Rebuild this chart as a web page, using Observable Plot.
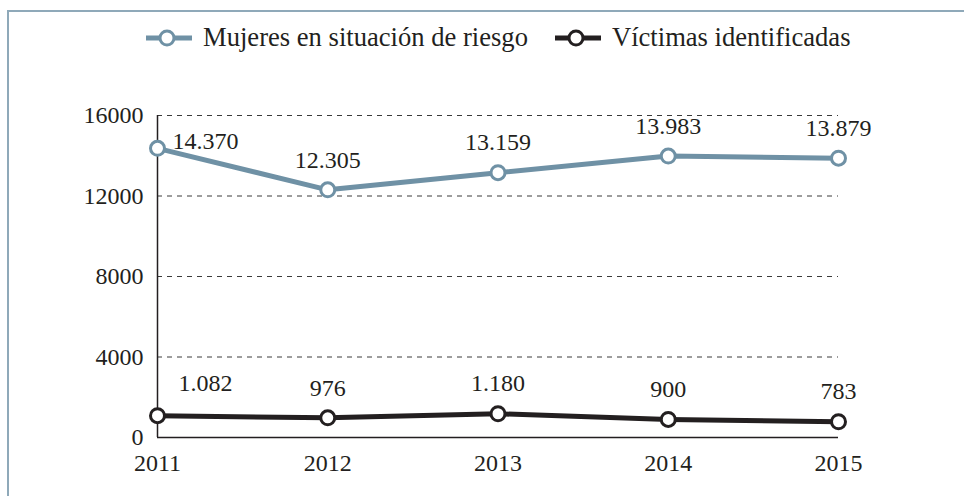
<!DOCTYPE html>
<html>
<head>
<meta charset="utf-8">
<script src="https://cdn.jsdelivr.net/npm/d3@7"></script>
<script src="https://cdn.jsdelivr.net/npm/@observablehq/plot@0.6"></script>
</head>
<body style="margin:0;padding:0;background:#fff;font-family:'Liberation Serif', serif">
<div id="wrap" style="position:relative;width:964px;height:496px;overflow:hidden;font-family:'Liberation Serif', serif">
  <div style="position:absolute;left:7px;top:10px;width:970px;height:500px;border-top:2px solid #8fa9b9;border-left:2px solid #8fa9b9"></div>
  <div id="chart" style="position:absolute;left:0;top:0"></div>
  <div id="legend" style="position:absolute;top:22px;left:145px;display:flex;align-items:center;font-size:26.6px;color:#231f20;font-family:'Liberation Serif', serif"></div>
</div>
<script>
const years = [2011, 2012, 2013, 2014, 2015];
const mujeres = [14370, 12305, 13159, 13983, 13879];
const victimas = [1082, 976, 1180, 900, 783];
const seriesNames = ["Mujeres en situación de riesgo", "Víctimas identificadas"];
const seriesColors = ["#6f91a5", "#231f20"];
const yTicks = [0, 4000, 8000, 12000, 16000];
const gridTicks = [4000, 8000, 12000, 16000];
const labelFormat = v => d3.format(",")(v).replace(/,/g, ".");
const FONT = "'Liberation Serif', serif";

const data = [
  ...years.map((y, i) => ({year: y, value: mujeres[i], series: seriesNames[0]})),
  ...years.map((y, i) => ({year: y, value: victimas[i], series: seriesNames[1]}))
];

const legend = document.getElementById("legend");
seriesNames.forEach((name, i) => {
  const item = document.createElement("div");
  item.style.display = "flex";
  item.style.alignItems = "center";
  item.style.marginRight = "26px";
  item.innerHTML = `<svg width="48" height="20" style="margin-right:10px"><line x1="1" y1="10" x2="47" y2="10" stroke="${seriesColors[i]}" stroke-width="5"/><circle cx="22" cy="10" r="7" fill="#fff" stroke="${seriesColors[i]}" stroke-width="3"/></svg>`;
  const span = document.createElement("span");
  span.textContent = name;
  span.style.fontFamily = FONT;
  item.appendChild(span);
  legend.appendChild(item);
});

const first = data.filter(d => d.year === years[0]);
const rest = data.filter(d => d.year !== years[0]);

const plot = Plot.plot({
  width: 964,
  height: 496,
  marginTop: 115,
  marginLeft: 157,
  marginRight: 126,
  marginBottom: 59,
  style: {fontFamily: FONT, fontSize: "24px", color: "#231f20", background: "transparent", overflow: "visible"},
  x: {domain: [2011, 2015], ticks: years, tickFormat: d => String(d), tickSize: 0, tickPadding: 16, label: null},
  y: {domain: [0, 16000], ticks: yTicks, tickFormat: d => String(d), tickSize: 0, tickPadding: 14, label: null},
  color: {domain: seriesNames, range: seriesColors},
  marks: [
    Plot.ruleY(gridTicks, {stroke: "#3a3a3a", strokeWidth: 1, strokeDasharray: "5,5"}),
    Plot.ruleX([2011], {y1: 0, y2: 16000, stroke: "#231f20", strokeWidth: 1.5}),
    Plot.ruleY([0], {x1: 2011, x2: 2015, stroke: "#231f20", strokeWidth: 1.5}),
    Plot.line(data, {x: "year", y: "value", z: "series", stroke: "series", strokeWidth: 5}),
    Plot.dot(data, {x: "year", y: "value", stroke: "series", fill: "white", r: 7, strokeWidth: 3}),
    Plot.text(rest, {x: "year", y: "value", text: d => labelFormat(d.value), dy: -30, fill: "#231f20", fontSize: 24}),
    Plot.text(first.filter(d => d.series === seriesNames[0]), {x: "year", y: "value", text: d => labelFormat(d.value), dx: 15, dy: -7, textAnchor: "start", fill: "#231f20", fontSize: 24}),
    Plot.text(first.filter(d => d.series === seriesNames[1]), {x: "year", y: "value", text: d => labelFormat(d.value), dx: 21, dy: -32, textAnchor: "start", fill: "#231f20", fontSize: 24})
  ]
});
document.getElementById("chart").appendChild(plot);
</script>
</body>
</html>
